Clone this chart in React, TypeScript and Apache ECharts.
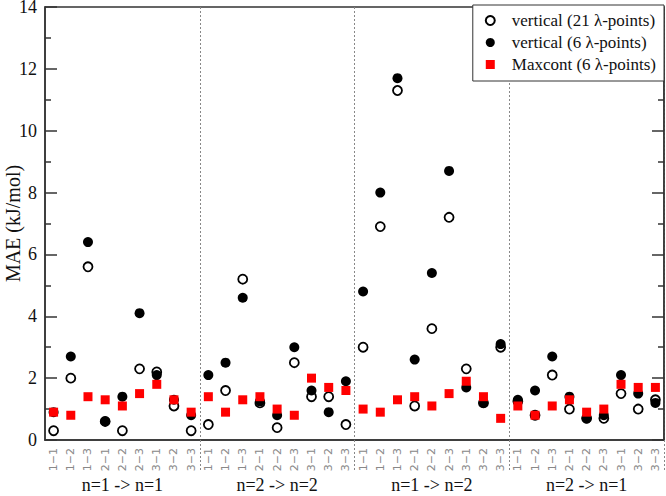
import React, { useEffect, useRef } from "react";
import * as echarts from "echarts";

const pairLabels = ["1−1", "1−2", "1−3", "2−1", "2−2", "2−3", "3−1", "3−2", "3−3"];
const groupLabels = ["n=1 -> n=1", "n=2 -> n=2", "n=1 -> n=2", "n=2 -> n=1"];
const categories: string[] = [];
groupLabels.forEach((g, gi) => pairLabels.forEach((p) => categories.push(gi + ":" + p)));

const vertical21 = [
  0.3, 2.0, 5.6, 0.6, 0.3, 2.3, 2.2, 1.1, 0.3,
  0.5, 1.6, 5.2, 1.2, 0.4, 2.5, 1.4, 1.4, 0.5,
  3.0, 6.9, 11.3, 1.1, 3.6, 7.2, 2.3, 1.2, 3.0,
  1.25, 0.8, 2.1, 1.0, 0.7, 0.7, 1.5, 1.0, 1.3,
];
const vertical6 = [
  0.9, 2.7, 6.4, 0.6, 1.4, 4.1, 2.1, 1.3, 0.8,
  2.1, 2.5, 4.6, 1.25, 0.8, 3.0, 1.6, 0.9, 1.9,
  4.8, 8.0, 11.7, 2.6, 5.4, 8.7, 1.7, 1.2, 3.1,
  1.3, 1.6, 2.7, 1.4, 0.7, 0.8, 2.1, 1.5, 1.2,
];
const maxcont6 = [
  0.9, 0.8, 1.4, 1.3, 1.1, 1.5, 1.8, 1.3, 0.9,
  1.4, 0.9, 1.3, 1.4, 1.0, 0.8, 2.0, 1.7, 1.6,
  1.0, 0.9, 1.3, 1.4, 1.1, 1.5, 1.9, 1.4, 0.7,
  1.1, 0.8, 1.1, 1.3, 0.9, 1.0, 1.8, 1.7, 1.7,
];
const yTicks = { min: 0, max: 14, interval: 2 };

const serif = "Liberation Serif";

export default function App() {
  const ref = useRef<HTMLDivElement>(null);
  useEffect(() => {
    if (!ref.current) return;
    const chart = echarts.init(ref.current, undefined, { renderer: "svg" });
    const sepInterval = (i: number) => i > 0 && i % 9 === 0;
    const axisColor = "#333";
    chart.setOption({
      animation: false,
      backgroundColor: "#fff",
      grid: {
        left: 45,
        right: 2,
        top: 7,
        bottom: 56,
        containLabel: false,
        outerBoundsMode: "none",
        show: true,
        borderColor: axisColor,
        borderWidth: 1.5,
      },
      legend: {
        orient: "vertical",
        right: 2,
        top: 5,
        backgroundColor: "#fff",
        borderColor: axisColor,
        borderWidth: 1,
        borderRadius: 0,
        padding: [7, 8, 8, 12],
        itemWidth: 9,
        itemHeight: 9,
        itemGap: 5,
        textStyle: { fontFamily: serif, fontSize: 17, color: "#111", padding: [0, 0, 0, 12] },
        data: [
          { name: "vertical (21 λ-points)", icon: "circle" },
          { name: "vertical (6 λ-points)", icon: "circle" },
          { name: "Maxcont (6 λ-points)", icon: "rect" },
        ],
      },
      xAxis: [
        {
          type: "category",
          data: categories,
          boundaryGap: true,
          axisLine: { show: true, lineStyle: { color: axisColor, width: 1.5 } },
          axisTick: {
            show: true,
            interval: sepInterval,
            inside: false,
            length: 30,
            lineStyle: { color: "#888", type: [2, 2], width: 1 },
          },
          splitLine: {
            show: true,
            interval: sepInterval,
            lineStyle: { color: "#888", type: [2, 2], width: 1 },
          },
          axisLabel: {
            interval: 0,
            rotate: 90,
            margin: 8,
            fontFamily: "DejaVu Sans",
            fontSize: 11,
            color: "#888",
            formatter: (v: string) => v.split(":")[1],
          },
        },
        {
          type: "category",
          data: groupLabels,
          position: "bottom",
          boundaryGap: true,
          axisLine: { show: false },
          axisTick: { show: false },
          splitLine: { show: false },
          axisLabel: { interval: 0, margin: 36, fontFamily: serif, fontSize: 18, lineHeight: 18, color: "#111" },
        },
      ],
      yAxis: [
        {
          type: "value",
          ...yTicks,
          name: "MAE (kJ/mol)",
          nameLocation: "middle",
          nameGap: 22,
          nameMoveOverlap: false,
          nameTextStyle: { fontFamily: serif, fontSize: 20, lineHeight: 20, color: "#111" },
          axisLine: { show: true, lineStyle: { color: axisColor, width: 1.5 } },
          axisTick: { show: true, inside: true, length: 12, lineStyle: { color: axisColor, width: 1.5 } },
          minorTick: { show: true, splitNumber: 2, length: 6, lineStyle: { color: axisColor, width: 1.5 } },
          splitLine: { show: false },
          axisLabel: { fontFamily: serif, fontSize: 18, lineHeight: 12, color: "#111", margin: 8 },
        },
        {
          type: "value",
          ...yTicks,
          position: "right",
          axisLine: { show: true, lineStyle: { color: axisColor, width: 1.5 } },
          axisTick: { show: true, inside: true, length: 12, lineStyle: { color: axisColor, width: 1.5 } },
          minorTick: { show: true, splitNumber: 2, length: 6, lineStyle: { color: axisColor, width: 1.5 } },
          splitLine: { show: false },
          axisLabel: { show: false },
        },
      ],
      series: [
        {
          name: "vertical (21 λ-points)",
          type: "scatter",
          symbol: "circle",
          symbolSize: 9,
          itemStyle: { color: "#fff", borderColor: "#000", borderWidth: 1.8, opacity: 1 },
          data: vertical21,
          z: 2,
        },
        {
          name: "vertical (6 λ-points)",
          type: "scatter",
          symbol: "circle",
          symbolSize: 10,
          itemStyle: { color: "#000", opacity: 1 },
          data: vertical6,
          z: 3,
        },
        {
          name: "Maxcont (6 λ-points)",
          type: "scatter",
          symbol: "rect",
          symbolSize: 9,
          itemStyle: { color: "#ff0000", opacity: 1 },
          data: maxcont6,
          z: 4,
        },
      ],
    });
    return () => chart.dispose();
  }, []);
  return (
    <div
      ref={ref}
      style={{ position: "fixed", left: 0, top: 0, width: 666, height: 496 }}
    />
  );
}
